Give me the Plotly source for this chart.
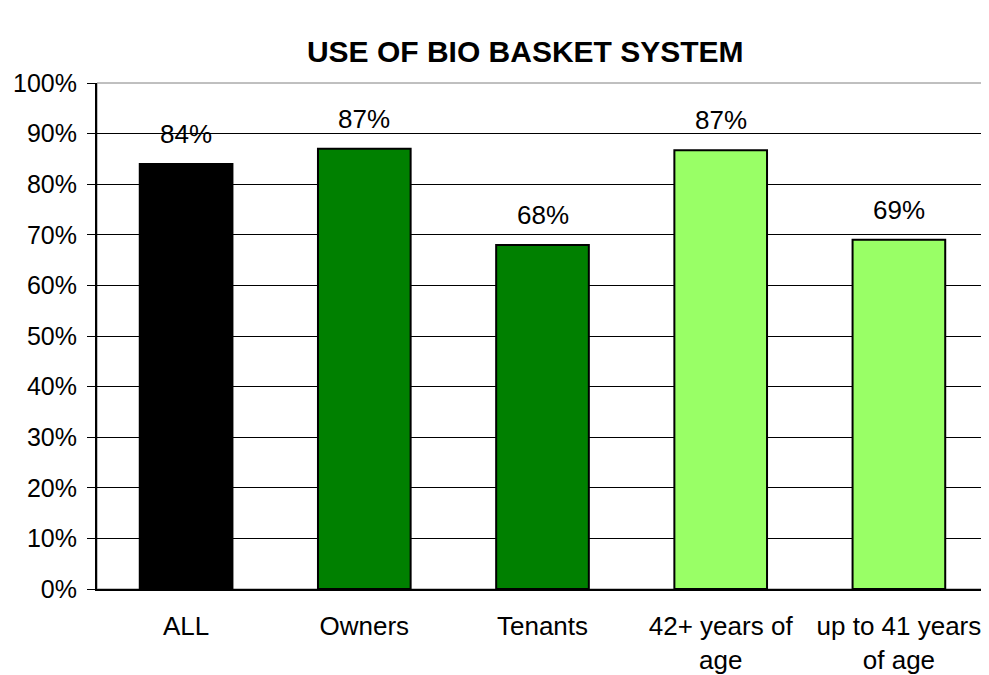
import plotly.graph_objects as go

# Données
categories = ["ALL", "Owners", "Tenants", "42+ years of<br>age", "up to 41 years<br>of age"]
share_used = [0.84, 0.87, 0.68, 0.867, 0.69]
bar_colors = ["#000000", "#008000", "#008000", "#99FF66", "#99FF66"]
y_ticks = [i / 10 for i in range(11)]

FONT = "Liberation Sans, Arial, sans-serif"

fig = go.Figure(go.Bar(
    x=categories,
    y=share_used,
    marker=dict(color=bar_colors, line=dict(color="#000000", width=2)),
    width=0.52,
    hovertemplate="%{x}: %{y:.0%}<extra></extra>",
))

# Étiquettes de valeur posées au-dessus des barres, avec un écart façon Excel
for cat, val in zip(categories, share_used):
    fig.add_annotation(
        x=cat, y=val, text=f"{val:.0%}", showarrow=False,
        yanchor="bottom", yshift=13,
        font=dict(size=26, color="#000000", family=FONT),
    )

fig.update_layout(
    title=dict(
        text="<b>USE OF BIO BASKET SYSTEM</b>",
        x=0.523, xanchor="center", y=0.935, yanchor="middle",
        font=dict(size=30, color="#000000", family=FONT),
    ),
    width=989, height=675,
    margin=dict(l=89, r=9, t=75, b=94),
    paper_bgcolor="white",
    plot_bgcolor="white",
    showlegend=False,
    font=dict(family=FONT, size=25, color="#000000"),
    shapes=[dict(
        type="rect", xref="paper", yref="paper", x0=0, x1=1, y0=0, y1=1,
        line=dict(color="#808080", width=1), layer="below",
    )],
)
fig.update_xaxes(
    automargin=False,
    showline=True, linecolor="#000000", linewidth=2,
    ticks="", ticklabelstandoff=13,
    tickfont=dict(size=26, family=FONT),
)
fig.update_yaxes(
    automargin=False,
    range=[0, 1], tickvals=y_ticks, tickformat=".0%",
    showgrid=True, gridcolor="#000000", gridwidth=1,
    showline=True, linecolor="#000000", linewidth=2,
    ticks="outside", ticklen=8, tickcolor="#000000", ticklabelstandoff=5,
    tickfont=dict(size=25, family=FONT),
    zeroline=False,
)

fig.write_html("out.html")
